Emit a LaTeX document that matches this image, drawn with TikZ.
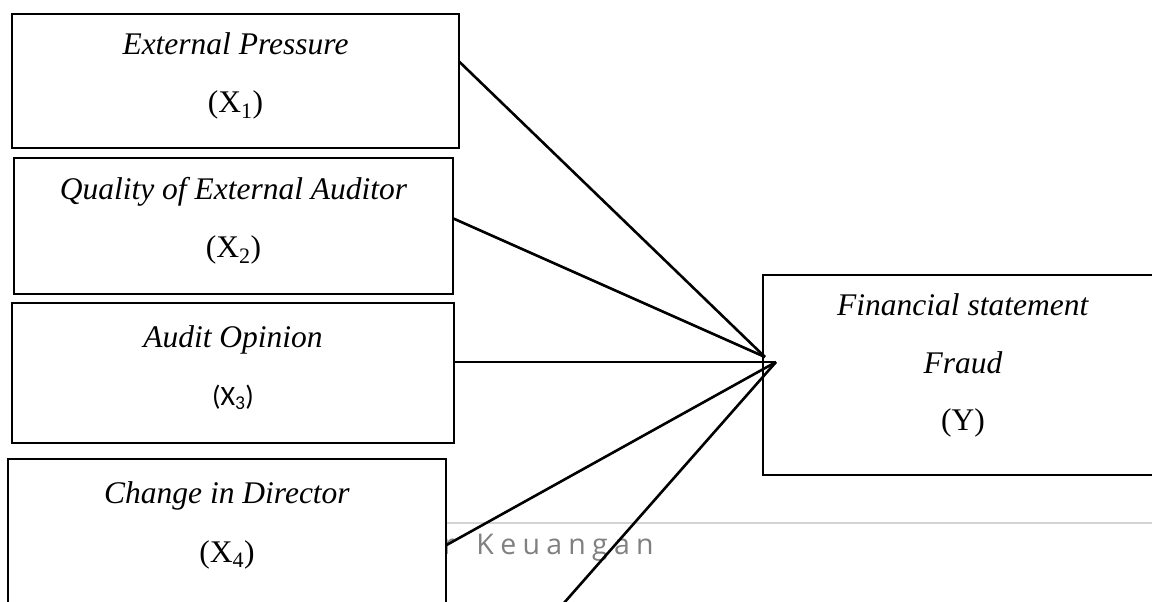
\documentclass[tikz,border=0pt]{standalone}
\usepackage{fontspec}
\setmainfont{Liberation Serif}
\newfontfamily\calfont{Carlito}
\newfontfamily\footfont[LetterSpace=22]{Open Sans}
\begin{document}
\begin{tikzpicture}[x=1pt,y=-1pt,
  box/.style={draw,line width=2.8pt,fill=white,inner sep=0pt,outer sep=0pt},
  lbl/.style={anchor=base,inner sep=0pt,font=\fontsize{31.5}{38}\selectfont},
  conn/.style={line width=2.6pt}]
\useasboundingbox (0,0) rectangle (1152,602);
\clip (0,0) rectangle (1152,602);
% page footer (behind the boxes)
\draw[line width=1.5pt,color=black!17] (447,523) -- (1152,523);
\node[anchor=base west,inner sep=0pt,text=black!50,font=\footfont\fontsize{28.5}{32}\selectfont] (foot) at (443,554) {r\hspace{8pt} Keuangan};
% boxes
\node[box,minimum width=447pt,minimum height=134pt] (b1) at (235.5,81) {};
\node[box,minimum width=439pt,minimum height=136pt] (b2) at (233.5,226) {};
\node[box,minimum width=442pt,minimum height=140pt] (b3) at (233,373) {};
\node[box,minimum width=438pt,minimum height=242pt] (b4) at (227,580) {};
\node[box,minimum width=400pt,minimum height=200pt] (y) at (963,375) {};
% texts
\node[lbl] (t1a) at (235.5,55) {\textit{External Pressure}};
\node[lbl] (t1b) at (235.5,113) {(X\textsubscript{1})};
\node[lbl] (t2a) at (233.5,199) {\textit{Quality of External Auditor}};
\node[lbl] (t2b) at (233.5,257) {(X\textsubscript{2})};
\node[lbl] (t3a) at (233,347) {\textit{Audit Opinion}};
\node[lbl,font=\calfont\fontsize{28}{32}\selectfont] (t3b) at (233,405) {(X\textsubscript{3})};
\node[lbl] (t4a) at (227,503) {\textit{Change in Director}};
\node[lbl] (t4b) at (227,562) {(X\textsubscript{4})};
\node[lbl] (ya) at (963,315) {\textit{Financial statement}};
\node[lbl] (yb) at (963,373) {\textit{Fraud}};
\node[lbl] (yc) at (963,430) {(Y)};
% connectors
\coordinate (tA) at (765,357);
\coordinate (tB) at (776,362);
\coordinate (s5) at (549,620);
\draw[conn] (b1.5.9) -- (tA);
\draw[conn] (b2.2.1) -- (tA);
\draw[conn] (b3.east |- tB) -- (tB);
\draw[conn] (b4.9.8) -- (tB);
\draw[conn] (s5) -- (tB);
\end{tikzpicture}
\end{document}
